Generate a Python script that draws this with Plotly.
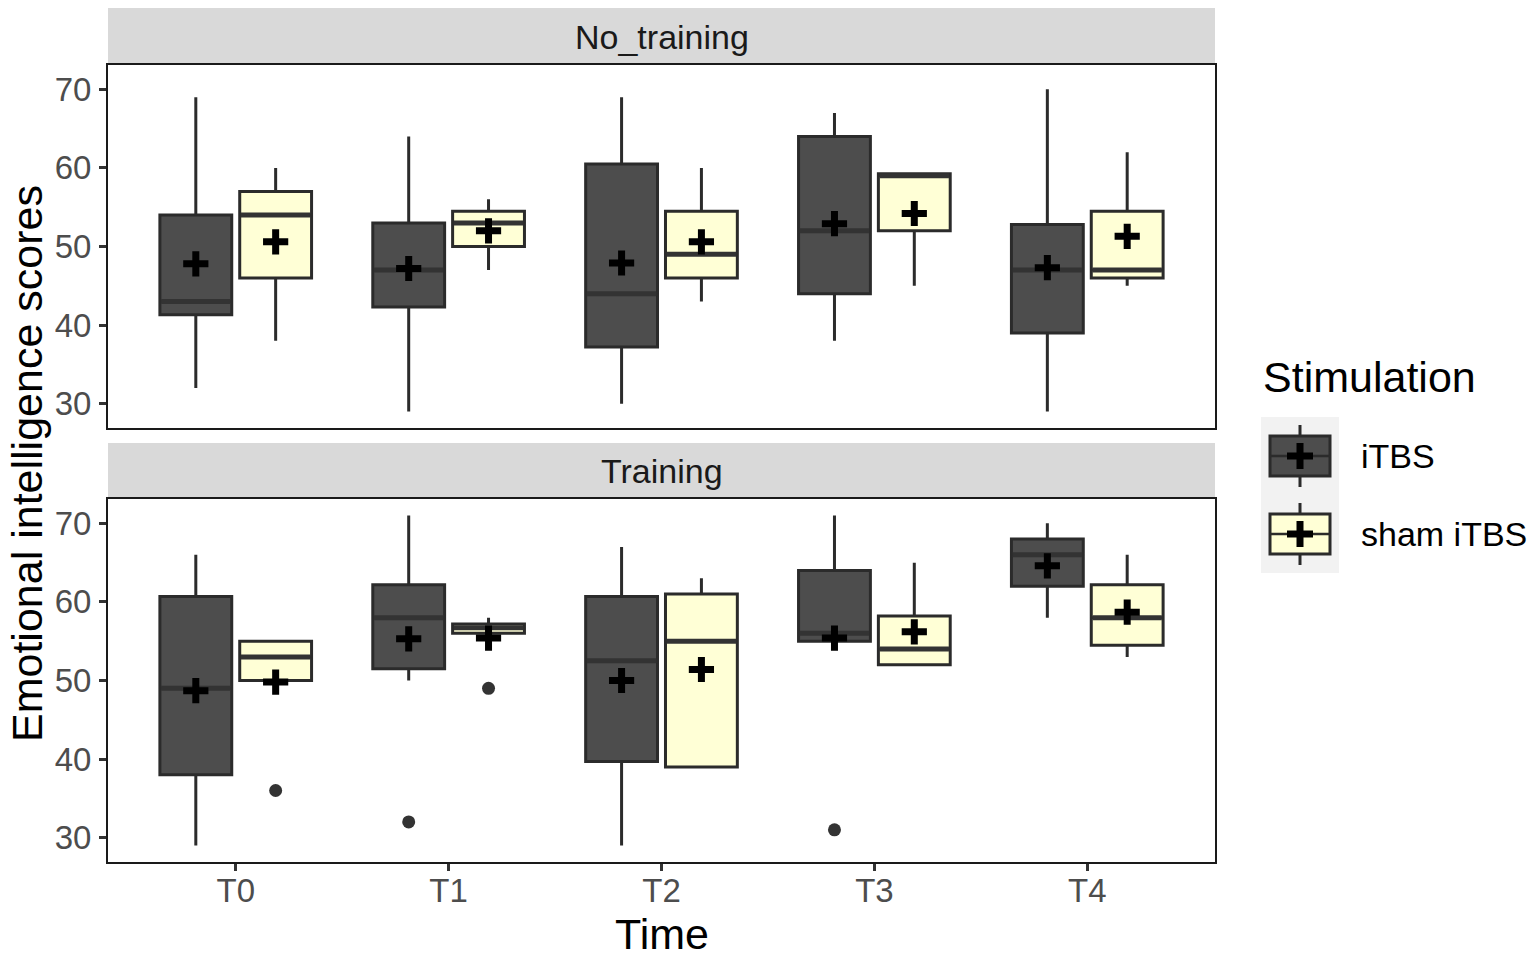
import plotly.graph_objects as go

# ---------------- data ----------------
times = ["T0", "T1", "T2", "T3", "T4"]
y_ticks = [30, 40, 50, 60, 70]
group_names = ["iTBS", "sham iTBS"]
panel_names = ["No_training", "Training"]

# No_training, iTBS
nt_itbs_lower = [32, 29, 30, 38, 29]
nt_itbs_q1 = [41.3, 42.3, 37.2, 44, 39]
nt_itbs_median = [43, 47, 44, 52, 47]
nt_itbs_q3 = [54, 53, 60.5, 64, 52.8]
nt_itbs_upper = [69, 64, 69, 67, 70]
nt_itbs_mean = [47.8, 47.2, 47.9, 52.9, 47.3]
nt_itbs_out_t = []
nt_itbs_out_y = []

# No_training, sham iTBS
nt_sham_lower = [38, 47, 43, 45, 45]
nt_sham_q1 = [46, 50, 46, 52, 46]
nt_sham_median = [54, 53, 49, 59, 47]
nt_sham_q3 = [57, 54.5, 54.5, 59.25, 54.5]
nt_sham_upper = [60, 56, 60, 59.25, 62]
nt_sham_mean = [50.6, 52.0, 50.6, 54.2, 51.3]
nt_sham_out_t = []
nt_sham_out_y = []

# Training, iTBS
tr_itbs_lower = [29, 50, 29, 55, 58]
tr_itbs_q1 = [38, 51.5, 39.7, 55, 62]
tr_itbs_median = [49, 58, 52.5, 56, 66]
tr_itbs_q3 = [60.7, 62.2, 60.7, 64, 68]
tr_itbs_upper = [66, 71, 67, 71, 70]
tr_itbs_mean = [48.7, 55.3, 50.0, 55.4, 64.6]
tr_itbs_out_t = ["T1", "T3"]
tr_itbs_out_y = [32, 31]

# Training, sham iTBS
tr_sham_lower = [50, 55, 39, 52, 53]
tr_sham_q1 = [50, 56, 39, 52, 54.5]
tr_sham_median = [53, 56.7, 55, 54, 58]
tr_sham_q3 = [55, 57.2, 61, 58.2, 62.2]
tr_sham_upper = [55, 58, 63, 65, 66]
tr_sham_mean = [49.8, 55.4, 51.4, 56.2, 58.7]
tr_sham_out_t = ["T0", "T1"]
tr_sham_out_y = [36, 49]

# ---------------- styling ----------------
W, H = 1536, 958
FONT = "Liberation Sans, Arial, sans-serif"
FILL = {"iTBS": "#4D4D4D", "sham iTBS": "#FFFFD6"}
EDGE = "#2B2B2B"
DODGE = 0.1875
BOX_W = 0.3375
TICK_SIZE = 33


def px(x):
    return x / W


def py(y):
    return 1 - y / H


fig = go.Figure()

series = [
    ("No_training", "x2", "y2", "iTBS", nt_itbs_lower, nt_itbs_q1, nt_itbs_median, nt_itbs_q3, nt_itbs_upper, nt_itbs_mean, nt_itbs_out_t, nt_itbs_out_y),
    ("No_training", "x2", "y2", "sham iTBS", nt_sham_lower, nt_sham_q1, nt_sham_median, nt_sham_q3, nt_sham_upper, nt_sham_mean, nt_sham_out_t, nt_sham_out_y),
    ("Training", "x", "y", "iTBS", tr_itbs_lower, tr_itbs_q1, tr_itbs_median, tr_itbs_q3, tr_itbs_upper, tr_itbs_mean, tr_itbs_out_t, tr_itbs_out_y),
    ("Training", "x", "y", "sham iTBS", tr_sham_lower, tr_sham_q1, tr_sham_median, tr_sham_q3, tr_sham_upper, tr_sham_mean, tr_sham_out_t, tr_sham_out_y),
]

for panel, xa, ya, grp, lo, q1, med, q3, hi, mean, out_t, out_y in series:
    off = -DODGE if grp == "iTBS" else DODGE
    pos = [i + off for i in range(len(times))]
    fig.add_trace(go.Box(
        x=pos, q1=q1, median=med, q3=q3, lowerfence=lo, upperfence=hi,
        width=BOX_W, whiskerwidth=0, boxpoints=False,
        fillcolor=FILL[grp], line=dict(color=EDGE, width=3),
        name=grp, legendgroup=grp, showlegend=False,
        xaxis=xa, yaxis=ya, hoverinfo="skip",
    ))
    # thicker median line (ggplot fatten)
    mx, my = [], []
    for p, m in zip(pos, med):
        mx += [p - BOX_W / 2 + 0.006, p + BOX_W / 2 - 0.006, None]
        my += [m, m, None]
    fig.add_trace(go.Scatter(x=mx, y=my, mode="lines", line=dict(color="#333333", width=5),
                             showlegend=False, xaxis=xa, yaxis=ya, hoverinfo="skip"))
    # outliers
    if out_t:
        ox = [times.index(t) + off for t in out_t]
        fig.add_trace(go.Scatter(x=ox, y=out_y, mode="markers",
                                 marker=dict(color="#333333", size=13),
                                 showlegend=False, xaxis=xa, yaxis=ya, hoverinfo="skip"))
    # means
    fig.add_trace(go.Scatter(x=pos, y=mean, mode="markers",
                             marker=dict(symbol="cross-thin", size=18, color="black",
                                         line=dict(color="black", width=7)),
                             showlegend=False, xaxis=xa, yaxis=ya, hoverinfo="skip"))

# ---------------- axes ----------------
x_dom = [px(108), px(1215)]
common_x = dict(domain=x_dom, range=[-0.6, 4.6], tickvals=list(range(len(times))), ticktext=times,
                showgrid=False, zeroline=False, showline=True, mirror=True,
                linecolor="#1a1a1a", linewidth=2)
common_y = dict(range=[26.9, 73.1], tickvals=y_ticks, ticktext=[str(v) for v in y_ticks],
                showgrid=False, zeroline=False, showline=True, mirror=True,
                linecolor="#1a1a1a", linewidth=2, ticks="outside", ticklen=7, tickwidth=2.5,
                tickcolor="#333333", tickfont=dict(size=TICK_SIZE, color="#4D4D4D", family=FONT),
                ticklabelstandoff=1)

fig.update_layout(
    width=W, height=H,
    margin=dict(l=0, r=0, t=0, b=0, autoexpand=False),
    paper_bgcolor="white", plot_bgcolor="white",
    font=dict(family=FONT),
    showlegend=False,
    boxmode="overlay",
    xaxis=dict(**common_x, anchor="y", ticks="outside", ticklen=7, tickwidth=2.5, tickcolor="#333333",
               tickfont=dict(size=TICK_SIZE, color="#4D4D4D", family=FONT), ticklabelstandoff=-9),
    xaxis2=dict(**common_x, anchor="y2", ticks="", showticklabels=False, matches="x"),
    yaxis=dict(**common_y, domain=[py(862), py(499)], anchor="x"),
    yaxis2=dict(**common_y, domain=[py(428), py(65)], anchor="x2", matches="y"),
)

shapes = []
annotations = []

# facet strips
for name, (top, bot) in zip(panel_names, [(8, 65), (443, 499)]):
    shapes.append(dict(type="rect", xref="paper", yref="paper",
                       x0=px(108), x1=px(1215), y0=py(bot), y1=py(top),
                       fillcolor="#D9D9D9", line=dict(width=0), layer="below"))
    annotations.append(dict(text=name, xref="paper", yref="paper",
                            x=px(661.5), y=py((top + bot) / 2), showarrow=False,
                            xanchor="center", yanchor="middle",
                            font=dict(size=34, color="#1A1A1A", family=FONT)))

# axis titles
annotations.append(dict(text="Time", xref="paper", yref="paper", x=px(662), y=py(934),
                        showarrow=False, xanchor="center", yanchor="middle",
                        font=dict(size=43, color="black", family=FONT)))
annotations.append(dict(text="Emotional intelligence scores", xref="paper", yref="paper",
                        x=px(27), y=py(464), textangle=-90, showarrow=False,
                        xanchor="center", yanchor="middle",
                        font=dict(size=43, color="black", family=FONT)))

# legend (drawn as in ggplot)
annotations.append(dict(text="Stimulation", xref="paper", yref="paper", x=px(1261), y=py(377),
                        showarrow=False, xanchor="left", yanchor="middle",
                        font=dict(size=43, color="black", family=FONT)))
for k, grp in enumerate(group_names):
    y0 = 417 + 78 * k
    cy = y0 + 39
    shapes.append(dict(type="rect", xref="paper", yref="paper", x0=px(1261), x1=px(1339),
                       y0=py(y0 + 78), y1=py(y0), fillcolor="#F2F2F2", line=dict(width=0)))
    shapes.append(dict(type="line", xref="paper", yref="paper", x0=px(1300), x1=px(1300),
                       y0=py(cy + 31), y1=py(cy - 31), line=dict(color=EDGE, width=3)))
    shapes.append(dict(type="rect", xref="paper", yref="paper", x0=px(1270), x1=px(1330),
                       y0=py(cy + 20), y1=py(cy - 20), fillcolor=FILL[grp],
                       line=dict(color=EDGE, width=3)))
    shapes.append(dict(type="line", xref="paper", yref="paper", x0=px(1270), x1=px(1330),
                       y0=py(cy), y1=py(cy), line=dict(color=EDGE, width=2.5)))
    shapes.append(dict(type="line", xref="paper", yref="paper", x0=px(1287), x1=px(1313),
                       y0=py(cy), y1=py(cy), line=dict(color="black", width=7)))
    shapes.append(dict(type="line", xref="paper", yref="paper", x0=px(1300), x1=px(1300),
                       y0=py(cy + 13), y1=py(cy - 13), line=dict(color="black", width=7)))
    annotations.append(dict(text=grp, xref="paper", yref="paper", x=px(1359), y=py(cy),
                            showarrow=False, xanchor="left", yanchor="middle",
                            font=dict(size=34, color="black", family=FONT)))

fig.update_layout(shapes=shapes, annotations=annotations)
fig.write_html("out.html", config={"displayModeBar": False},
               post_script="document.body.style.margin='0';document.body.style.overflow='hidden';")
